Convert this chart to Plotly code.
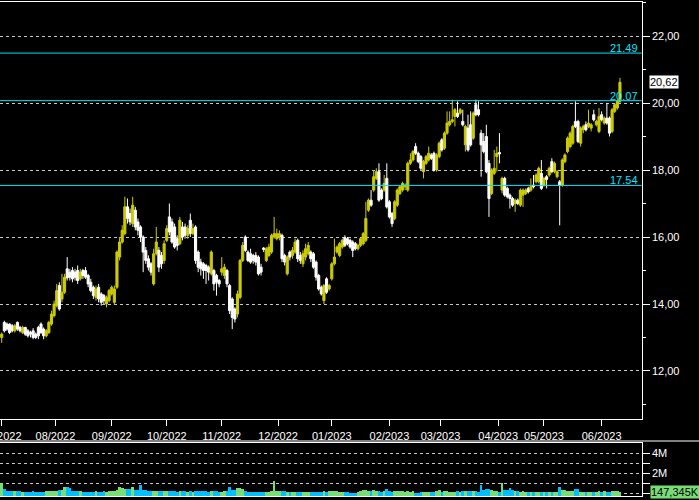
import plotly.graph_objects as go

# ---------------- data ----------------
OPEN = [13.00,13.45,13.40,13.40,13.35,13.20,13.45,13.30,13.15,13.30,13.20,13.15,13.20,13.10,13.30,13.40,13.25,13.05,13.15,13.40,
        13.65,13.95,14.55,14.15,14.35,15.05,14.95,15.00,14.95,15.00,14.75,15.00,15.00,14.85,14.65,14.50,14.20,14.50,14.30,14.25,
        14.00,14.10,14.30,14.05,14.50,15.40,15.85,16.10,16.90,16.70,16.40,16.80,16.45,16.30,16.00,15.60,15.35,15.20,14.60,15.50,
        15.60,15.45,15.30,15.90,16.60,16.45,16.30,15.95,15.80,16.30,16.30,16.05,16.50,16.10,16.30,15.55,15.25,15.20,15.15,15.10,
        14.90,15.00,14.85,14.70,14.95,14.85,15.00,14.55,14.15,13.85,13.70,14.20,15.30,16.00,15.55,15.50,15.45,15.45,15.40,15.10,
        15.67,15.30,15.45,15.55,16.00,15.95,16.00,16.05,15.45,14.90,15.55,15.45,15.55,15.90,15.45,15.20,15.40,15.50,15.55,15.50,
        15.25,14.85,14.50,14.10,14.75,14.45,14.75,15.20,15.55,15.45,15.70,15.98,15.95,15.90,15.85,15.80,15.65,15.75,15.80,15.90,
        16.80,17.10,17.40,17.75,17.95,17.40,17.40,17.75,17.05,16.70,16.55,16.95,17.30,17.40,17.50,17.40,18.20,18.30,18.70,18.50,
        18.40,17.95,18.20,18.30,18.45,18.50,18.00,18.40,18.90,18.65,19.10,19.35,19.45,19.60,19.70,19.70,19.45,18.75,19.25,19.35,
        18.95,19.95,19.80,19.10,18.85,19.00,18.20,17.30,17.90,18.40,18.52,17.40,17.75,17.45,17.25,17.15,17.00,17.10,16.95,17.25,
        17.30,17.45,17.40,17.55,17.65,17.65,17.90,17.55,17.80,17.85,18.25,17.95,17.80,17.65,17.55,18.25,18.55,18.70,18.80,19.45,
        19.45,18.80,19.20,19.35,19.30,19.25,19.65,19.35,19.15,19.65,19.40,19.55,19.55,19.15,19.75,19.85,20.05]
HIGH = [13.15,13.50,13.45,13.42,13.40,13.40,13.48,13.35,13.35,13.32,13.25,13.20,13.28,13.15,13.35,13.45,13.30,13.25,13.50,13.80,
        14.10,14.60,14.65,14.90,14.90,15.40,15.05,15.10,15.05,15.15,15.05,15.05,15.10,14.90,14.75,14.55,14.55,14.60,14.35,14.30,
        14.25,14.45,14.55,14.55,15.60,16.00,16.35,17.20,17.15,16.85,17.20,16.90,16.55,16.35,16.05,15.70,15.45,15.25,15.65,16.30,
        15.70,15.55,15.90,16.35,17.00,16.55,16.40,16.05,16.60,16.45,16.40,16.35,16.70,16.40,16.35,15.60,15.35,15.25,15.20,15.15,
        15.60,15.05,14.90,14.75,15.40,15.20,15.05,14.60,14.20,13.90,14.40,15.35,15.85,16.05,15.60,15.65,15.50,15.55,15.45,15.20,
        15.70,15.70,15.80,16.10,16.60,16.25,16.20,16.10,15.50,15.45,15.60,15.70,15.95,15.95,15.55,15.60,15.80,15.85,15.60,15.55,
        15.30,14.90,14.55,14.60,14.80,14.60,15.25,15.95,15.75,15.85,15.95,16.05,16.00,15.95,15.90,15.85,15.80,15.95,16.15,17.05,
        17.15,17.40,18.00,18.05,18.20,17.45,17.85,18.20,17.10,16.75,17.10,17.45,17.55,17.65,17.60,18.25,18.50,18.60,18.80,18.55,
        18.45,18.30,18.45,18.70,18.50,18.55,18.50,18.85,18.95,19.15,19.75,19.75,20.10,19.85,20.05,19.85,19.80,19.35,19.65,19.75,
        19.75,20.10,20.05,19.20,19.10,19.35,18.30,18.05,18.60,18.70,19.10,17.80,17.80,17.50,17.30,17.20,17.15,17.15,17.45,17.45,
        17.45,17.50,17.75,17.85,17.90,18.10,18.30,17.80,17.85,18.10,18.35,18.25,18.00,17.70,18.35,18.50,19.00,19.15,19.35,20.05,
        19.50,19.30,19.35,19.45,19.80,19.40,19.80,19.50,19.85,19.75,19.60,20.00,19.60,19.85,20.00,20.10,20.75]
LOW = [12.84,13.15,13.20,13.10,13.15,13.15,13.20,13.15,13.10,13.05,13.00,13.00,12.95,12.95,12.95,13.10,12.95,13.00,13.10,13.35,
       13.60,13.90,13.80,14.05,14.30,14.70,14.70,14.65,14.70,14.60,14.70,14.75,14.75,14.50,14.35,14.15,14.10,14.05,13.95,14.00,
       13.90,14.05,14.25,14.00,14.45,15.30,15.80,16.05,16.40,16.35,16.30,16.20,16.05,15.85,14.95,15.20,15.00,14.85,14.55,15.45,
       14.95,15.05,15.20,15.85,16.05,15.80,15.65,15.60,15.75,15.90,15.95,15.95,16.00,16.05,15.20,14.95,14.85,14.75,14.60,14.70,
       14.85,14.40,14.25,14.50,14.85,14.75,14.50,13.70,13.25,13.45,13.60,14.15,15.25,15.55,15.25,15.20,15.20,15.15,14.85,14.85,
       15.55,15.25,15.40,15.50,15.95,15.90,15.90,15.25,15.15,14.85,15.30,15.35,15.50,15.25,15.20,15.10,15.30,15.45,15.25,15.05,
       14.70,14.40,14.25,14.00,14.30,14.40,14.70,15.15,15.50,15.40,15.65,15.70,15.75,15.65,15.40,15.60,15.60,15.70,15.75,15.85,
       16.75,16.90,17.35,17.70,17.05,17.10,17.35,16.85,16.55,16.30,16.50,16.90,17.25,17.35,17.40,17.35,18.15,18.25,18.45,18.20,
       18.00,17.75,18.15,18.25,18.30,17.95,17.95,18.35,18.55,18.60,19.05,19.30,19.40,19.30,19.55,19.65,19.30,18.55,18.55,18.70,
       18.90,19.60,19.60,17.80,18.50,17.90,16.60,17.25,17.85,17.95,18.20,17.30,17.20,17.15,16.85,16.90,16.75,16.95,16.90,16.90,
       17.25,17.30,17.35,17.45,17.60,17.60,17.40,17.50,17.45,17.80,17.90,17.90,17.75,16.35,17.50,18.20,18.50,18.65,18.75,19.25,
       18.80,18.70,19.10,19.15,19.25,19.15,19.45,19.30,19.10,19.45,19.35,19.35,19.00,19.10,19.70,19.80,20.00]
CLOSE = [13.10,13.20,13.25,13.15,13.20,13.35,13.25,13.20,13.30,13.10,13.05,13.10,13.00,13.00,13.05,13.15,13.05,13.20,13.45,13.70,
         14.00,14.40,13.85,14.35,14.80,14.78,14.80,14.75,14.80,14.70,14.95,14.85,14.80,14.60,14.40,14.25,14.45,14.15,14.05,14.10,
         14.20,14.40,14.50,14.45,15.55,15.85,16.20,16.90,16.55,16.45,16.95,16.30,16.20,16.00,15.55,15.30,15.10,14.95,15.50,15.85,
         15.10,15.20,15.80,16.25,16.15,15.85,15.70,15.75,16.50,16.00,16.05,16.25,16.10,16.25,15.30,15.10,15.05,15.00,15.00,14.95,
         15.55,14.60,14.65,14.60,15.05,15.10,14.60,13.80,13.60,13.55,14.30,15.30,15.75,15.60,15.30,15.25,15.30,15.25,14.90,14.95,
         15.63,15.65,15.70,16.05,16.10,16.10,16.10,15.35,15.25,15.40,15.40,15.60,15.85,15.35,15.30,15.50,15.65,15.75,15.35,15.10,
         14.80,14.45,14.30,14.55,14.35,14.55,15.20,15.40,15.70,15.80,15.90,15.75,15.80,15.70,15.60,15.65,15.75,15.95,16.10,16.55,
         17.10,16.95,17.80,17.95,17.10,17.15,17.60,16.90,16.60,16.40,17.05,17.40,17.50,17.60,17.55,18.20,18.30,18.55,18.50,18.25,
         18.05,18.25,18.40,18.50,18.35,18.00,18.45,18.80,18.60,19.10,19.40,19.45,19.50,19.80,19.60,19.80,19.35,19.30,18.60,18.75,
         19.70,19.65,19.65,18.75,18.55,17.95,17.15,18.00,18.05,18.50,18.48,17.75,17.25,17.20,17.15,16.95,17.10,17.00,17.40,17.40,
         17.40,17.35,17.50,17.50,17.85,18.05,17.45,17.75,17.72,18.05,17.95,18.20,17.95,17.55,18.30,18.45,18.95,19.10,19.30,19.30,
         18.85,19.25,19.30,19.20,19.40,19.35,19.50,19.45,19.60,19.50,19.55,19.40,19.10,19.80,19.95,20.05,20.62]
VOLUME_M = [1.00,0.45,0.17,0.17,0.16,0.18,0.25,0.25,0.15,0.15,0.14,0.15,0.16,0.15,0.15,0.14,0.15,0.18,0.20,0.22,
            0.25,0.25,0.33,0.35,0.60,0.65,0.55,0.22,0.22,0.24,0.20,0.08,0.06,0.10,0.15,0.15,0.16,0.15,0.14,0.17,
            0.15,0.18,0.17,0.20,0.30,0.60,0.55,0.40,0.45,0.40,0.65,0.30,0.28,0.80,0.35,0.28,0.20,0.18,0.22,0.20,
            0.18,0.20,0.25,0.22,0.20,0.18,0.17,0.15,0.25,0.18,0.16,0.15,0.17,0.15,0.20,0.18,0.22,0.20,0.18,0.15,
            0.18,0.20,0.22,0.15,0.14,0.16,0.20,0.65,0.35,0.30,0.50,0.55,0.40,0.20,0.10,0.08,0.07,0.06,0.08,0.07,
            0.12,0.14,0.15,0.20,1.20,0.20,0.18,0.20,0.18,0.06,0.10,0.08,0.12,0.10,0.12,0.08,0.10,0.12,0.12,0.10,
            0.10,0.12,0.10,0.20,0.12,0.18,0.20,0.25,0.20,0.15,0.15,0.10,0.08,0.03,0.03,0.05,0.15,0.18,0.33,0.30,
            0.25,0.18,0.30,0.20,0.18,0.15,0.18,0.45,0.20,0.15,0.18,0.20,0.18,0.20,0.15,0.18,0.15,0.18,0.05,0.05,
            0.08,0.12,0.15,0.10,0.15,0.10,0.20,0.35,0.15,0.18,0.20,0.15,0.12,0.15,0.18,0.15,0.17,0.18,0.20,0.22,
            0.20,0.25,0.15,0.80,0.35,0.40,0.45,0.30,0.20,0.20,0.15,1.00,0.30,0.30,0.50,0.35,0.20,0.18,0.15,0.18,
            0.15,0.12,0.10,0.08,0.15,0.14,0.12,0.15,0.15,0.12,0.14,0.12,0.10,0.65,0.35,0.30,0.25,0.20,0.22,0.45,
            0.40,0.15,0.15,0.08,0.10,0.08,0.07,0.08,0.20,0.08,0.18,0.15,0.10,0.25,0.22,0.18,0.147345]

MONTH_POS = [0, 20.5, 42, 63, 84, 105.5, 126, 148, 167.5, 189.5, 207, 229]
MONTH_LABELS = ["07/2022", "08/2022", "09/2022", "10/2022", "11/2022", "12/2022",
                "01/2023", "02/2023", "03/2023", "04/2023", "05/2023", "06/2023"]

LEVELS = [21.49, 20.07, 17.54]
LEVEL_LABELS = ["21.49", "20.07", "17.54"]
LAST_PRICE_LABEL = "20,62"
LAST_VOLUME_LABEL = "147,345K"

PRICE_TICKS = [12, 14, 16, 18, 20, 22]
VOL_TICKS = [0, 1e6, 2e6, 3e6, 4e6]
VOL_TICKTEXT = ["", "", "2M", "", "4M"]

# ---------------- styling ----------------
W, H = 699, 500
YELLOW = "#cccc00"
WHITE = "#ffffff"
CYAN = "#00e5ff"
VGREEN = "#77dd77"
VBLUE = "#00bfff"
GRID = "#c8c8c8"
FONT = "Liberation Sans, Arial, sans-serif"

idx = list(range(len(CLOSE)))
volumes = [v * 1e6 for v in VOLUME_M]
vcolors = [VGREEN if c >= o else VBLUE for o, c in zip(OPEN, CLOSE)]

XR = [-0.65, 244.3]
XDOM = [0, 641.7 / W]
VOL_BASE = -0.27e6

fig = go.Figure()
fig.add_trace(go.Candlestick(
    x=idx, open=OPEN, high=HIGH, low=LOW, close=CLOSE,
    increasing=dict(line=dict(color=YELLOW, width=1), fillcolor=YELLOW),
    decreasing=dict(line=dict(color=WHITE, width=1), fillcolor=WHITE),
    whiskerwidth=0, xaxis="x", yaxis="y", hoverinfo="skip",
))
fig.add_trace(go.Bar(
    x=idx, y=[v - VOL_BASE for v in volumes], base=VOL_BASE,
    marker=dict(color=vcolors, line=dict(width=0)), width=1.0,
    xaxis="x2", yaxis="y2", hoverinfo="skip",
))

for lv, lab in zip(LEVELS, LEVEL_LABELS):
    fig.add_shape(type="line", xref="x domain", yref="y", x0=0, x1=1, y0=lv, y1=lv,
                  line=dict(color=CYAN, width=1))
    fig.add_annotation(xref="paper", yref="y", x=639 / W, y=lv, text=lab, showarrow=False,
                       xanchor="right", yanchor="bottom", borderpad=0, yshift=-2,
                       font=dict(family=FONT, size=11, color=CYAN))

fig.add_annotation(xref="paper", yref="y", x=649 / W, y=CLOSE[-1], text=LAST_PRICE_LABEL,
                   showarrow=False, xanchor="left", yanchor="middle", bgcolor=WHITE,
                   borderpad=0, font=dict(family=FONT, size=11, color="#000000"))
fig.add_annotation(xref="paper", yref="y2", x=650 / W, y=volumes[-1], text=LAST_VOLUME_LABEL,
                   showarrow=False, xanchor="left", yanchor="middle", bgcolor=VGREEN,
                   borderpad=0, font=dict(family=FONT, size=11, color="#000000"))

# separator line between the panels
fig.add_shape(type="line", xref="paper", yref="paper", x0=0, x1=1,
              y0=(H - 441) / H, y1=(H - 441) / H, line=dict(color=WHITE, width=1))

axfont = dict(family=FONT, size=11, color=WHITE)
fig.update_layout(
    width=W, height=H,
    margin=dict(l=0, r=0, t=0, b=0, autoexpand=False),
    paper_bgcolor="#000000", plot_bgcolor="#000000",
    showlegend=False,
    separators=",.",
    boxgap=0.2, boxgroupgap=0,
    xaxis=dict(domain=XDOM, range=XR, anchor="y", rangeslider=dict(visible=False),
               tickmode="array", tickvals=MONTH_POS, ticktext=MONTH_LABELS,
               ticks="outside", ticklen=6, tickcolor=WHITE, tickfont=axfont,
               ticklabeloverflow="allow", automargin=False,
               showgrid=False, zeroline=False, showline=True, mirror=True,
               linecolor=WHITE, linewidth=1),
    yaxis=dict(domain=[(H - 419.3) / H, (H - 2.3) / H], range=[10.558, 23.006],
               side="right", anchor="x", tickmode="array", tickvals=PRICE_TICKS,
               tickformat=".2f", ticks="outside", ticklen=7, tickcolor=WHITE,
               automargin=False,
               tickfont=axfont, showgrid=True, gridcolor=GRID, griddash="3px,3px",
               gridwidth=1, zeroline=False, showline=True, linecolor=WHITE, linewidth=1,
               minor=dict(dtick=1, tick0=0, ticks="outside", ticklen=3, tickcolor=WHITE,
                          showgrid=False)),
    xaxis2=dict(domain=XDOM, range=XR, anchor="y2", showticklabels=False, ticks="",
                automargin=False,
                showgrid=False, zeroline=False, showline=True, mirror=True,
                linecolor=WHITE, linewidth=1),
    yaxis2=dict(domain=[(H - 496) / H, (H - 443.3) / H], range=[VOL_BASE, 5.0e6],
                side="right", anchor="x2", tickmode="array", tickvals=VOL_TICKS,
                ticktext=VOL_TICKTEXT, ticks="outside", ticklen=7, tickcolor=WHITE,
                automargin=False,
                tickfont=axfont, showgrid=True, gridcolor=GRID, griddash="3px,3px",
                zeroline=False, showline=True, linecolor=WHITE, linewidth=1),
    bargap=0,
)

fig.write_html("out.html", config={"displayModeBar": False},
               post_script="document.body.style.margin='0';document.body.style.overflow='hidden';")
